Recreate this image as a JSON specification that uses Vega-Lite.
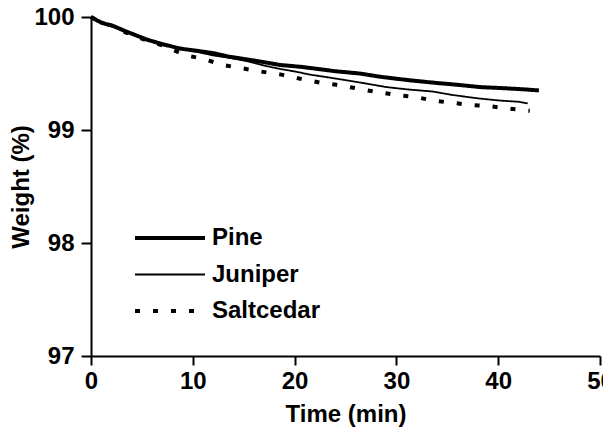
{
  "$schema": "https://vega.github.io/schema/vega-lite/v6.json",
  "width": 509,
  "height": 339,
  "autosize": "none",
  "padding": {"left": 91, "top": 17, "right": 3, "bottom": 78},
  "background": "white",
  "config": {
    "view": {"stroke": null},
    "font": "Liberation Sans",
    "axis": {
      "grid": false,
      "domainColor": "black",
      "domainWidth": 2,
      "tickColor": "black",
      "tickWidth": 2,
      "labelFont": "Liberation Sans",
      "labelFontWeight": "bold",
      "labelFontSize": 24,
      "labelColor": "black",
      "titleFont": "Liberation Sans",
      "titleFontWeight": "bold",
      "titleFontSize": 24,
      "titleColor": "black",
      "labelFlush": false,
      "labelBound": false,
      "labelOverlap": false
    }
  },
  "data": {
    "values": [
      {"s": "Pine", "t": 0, "w": 100},
      {"s": "Pine", "t": 1, "w": 99.95},
      {"s": "Pine", "t": 2.2, "w": 99.92},
      {"s": "Pine", "t": 3.5, "w": 99.87},
      {"s": "Pine", "t": 5.5, "w": 99.8},
      {"s": "Pine", "t": 7, "w": 99.76},
      {"s": "Pine", "t": 8.8, "w": 99.72},
      {"s": "Pine", "t": 10.5, "w": 99.7},
      {"s": "Pine", "t": 12, "w": 99.68},
      {"s": "Pine", "t": 13.5, "w": 99.65},
      {"s": "Pine", "t": 15.3, "w": 99.625},
      {"s": "Pine", "t": 17, "w": 99.6},
      {"s": "Pine", "t": 18.6, "w": 99.575},
      {"s": "Pine", "t": 20.5, "w": 99.56},
      {"s": "Pine", "t": 21.9, "w": 99.545},
      {"s": "Pine", "t": 24, "w": 99.52},
      {"s": "Pine", "t": 26.4, "w": 99.5},
      {"s": "Pine", "t": 28.5, "w": 99.47},
      {"s": "Pine", "t": 31.3, "w": 99.44},
      {"s": "Pine", "t": 33.5, "w": 99.42},
      {"s": "Pine", "t": 36, "w": 99.4},
      {"s": "Pine", "t": 38.2, "w": 99.38},
      {"s": "Pine", "t": 40.5, "w": 99.37},
      {"s": "Pine", "t": 42.5, "w": 99.36},
      {"s": "Pine", "t": 44, "w": 99.35},
      {"s": "Juniper", "t": 0, "w": 100},
      {"s": "Juniper", "t": 1, "w": 99.95},
      {"s": "Juniper", "t": 2.2, "w": 99.92},
      {"s": "Juniper", "t": 3.5, "w": 99.87},
      {"s": "Juniper", "t": 5.5, "w": 99.8},
      {"s": "Juniper", "t": 7, "w": 99.76},
      {"s": "Juniper", "t": 8.8, "w": 99.72},
      {"s": "Juniper", "t": 10.5, "w": 99.69},
      {"s": "Juniper", "t": 12, "w": 99.66},
      {"s": "Juniper", "t": 13.5, "w": 99.64},
      {"s": "Juniper", "t": 15.3, "w": 99.61},
      {"s": "Juniper", "t": 17, "w": 99.57},
      {"s": "Juniper", "t": 18.6, "w": 99.54},
      {"s": "Juniper", "t": 20.2, "w": 99.515},
      {"s": "Juniper", "t": 21.5, "w": 99.49},
      {"s": "Juniper", "t": 23, "w": 99.47},
      {"s": "Juniper", "t": 25.1, "w": 99.44},
      {"s": "Juniper", "t": 27.1, "w": 99.41},
      {"s": "Juniper", "t": 29, "w": 99.38},
      {"s": "Juniper", "t": 31, "w": 99.36},
      {"s": "Juniper", "t": 33.6, "w": 99.34},
      {"s": "Juniper", "t": 35.5, "w": 99.31},
      {"s": "Juniper", "t": 38, "w": 99.28},
      {"s": "Juniper", "t": 40.2, "w": 99.26},
      {"s": "Juniper", "t": 42, "w": 99.25},
      {"s": "Juniper", "t": 42.9, "w": 99.235},
      {"s": "Saltcedar", "t": 0, "w": 100},
      {"s": "Saltcedar", "t": 1, "w": 99.95},
      {"s": "Saltcedar", "t": 2.2, "w": 99.92},
      {"s": "Saltcedar", "t": 3.5, "w": 99.86},
      {"s": "Saltcedar", "t": 5.5, "w": 99.79},
      {"s": "Saltcedar", "t": 7, "w": 99.75},
      {"s": "Saltcedar", "t": 8, "w": 99.71},
      {"s": "Saltcedar", "t": 9.4, "w": 99.66},
      {"s": "Saltcedar", "t": 11, "w": 99.63},
      {"s": "Saltcedar", "t": 13, "w": 99.575},
      {"s": "Saltcedar", "t": 14.9, "w": 99.545},
      {"s": "Saltcedar", "t": 16.5, "w": 99.52},
      {"s": "Saltcedar", "t": 18.7, "w": 99.49},
      {"s": "Saltcedar", "t": 20.7, "w": 99.45},
      {"s": "Saltcedar", "t": 22.5, "w": 99.42},
      {"s": "Saltcedar", "t": 24.1, "w": 99.4},
      {"s": "Saltcedar", "t": 26, "w": 99.37},
      {"s": "Saltcedar", "t": 27.8, "w": 99.34},
      {"s": "Saltcedar", "t": 30, "w": 99.31},
      {"s": "Saltcedar", "t": 32, "w": 99.29},
      {"s": "Saltcedar", "t": 33.6, "w": 99.26},
      {"s": "Saltcedar", "t": 35.5, "w": 99.24},
      {"s": "Saltcedar", "t": 37.5, "w": 99.22},
      {"s": "Saltcedar", "t": 39.2, "w": 99.21},
      {"s": "Saltcedar", "t": 41, "w": 99.19},
      {"s": "Saltcedar", "t": 43.1, "w": 99.17}
    ]
  },
  "mark": {"type": "line", "color": "black", "strokeCap": "butt"},
  "encoding": {
    "x": {
      "field": "t",
      "type": "quantitative",
      "scale": {"domain": [0, 50], "nice": false},
      "axis": {"values": [0, 10, 20, 30, 40, 50], "title": "Time (min)", "tickSize": 9, "labelPadding": 4, "titlePadding": 9}
    },
    "y": {
      "field": "w",
      "type": "quantitative",
      "scale": {"domain": [97, 100], "zero": false, "nice": false},
      "axis": {"values": [97, 98, 99, 100], "title": "Weight (%)", "tickSize": 10, "labelPadding": 7, "titlePadding": 0}
    },
    "strokeDash": {
      "field": "s",
      "type": "ordinal",
      "scale": {"type": "ordinal", "domain": ["Pine", "Juniper", "Saltcedar"], "range": [[1, 0], [1, 0], [5, 13]]},
      "legend": {
        "title": null,
        "orient": "none",
        "legendX": 42,
        "legendY": 207,
        "symbolType": "stroke",
        "symbolSize": 4900,
        "symbolStrokeColor": "black",
        "labelFont": "Liberation Sans",
        "labelFontSize": 24,
        "labelFontWeight": "bold",
        "labelColor": "black",
        "labelOffset": 5,
        "clipHeight": 28,
        "rowPadding": 8.5
      }
    },
    "strokeWidth": {
      "field": "s",
      "type": "ordinal",
      "scale": {"type": "ordinal", "domain": ["Pine", "Juniper", "Saltcedar"], "range": [4, 1.8, 4]},
      "legend": {
        "title": null,
        "orient": "none",
        "legendX": 42,
        "legendY": 207,
        "symbolType": "stroke",
        "symbolSize": 4900,
        "symbolStrokeColor": "black",
        "labelFont": "Liberation Sans",
        "labelFontSize": 24,
        "labelFontWeight": "bold",
        "labelColor": "black",
        "labelOffset": 5,
        "clipHeight": 28,
        "rowPadding": 8.5
      }
    }
  }
}
